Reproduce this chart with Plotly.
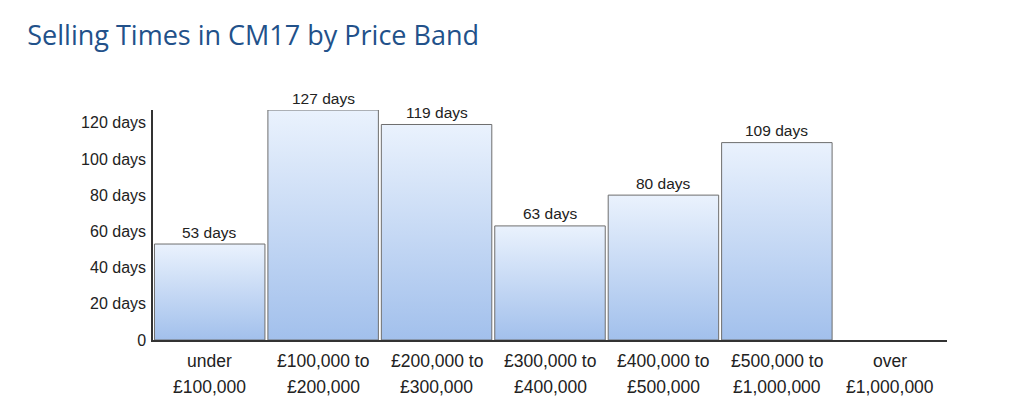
import plotly.graph_objects as go

title = "Selling Times in CM17 by Price Band"
bands_line1 = ["under", "£100,000 to", "£200,000 to", "£300,000 to",
               "£400,000 to", "£500,000 to", "over"]
bands_line2 = ["£100,000", "£200,000", "£300,000", "£400,000",
               "£500,000", "£1,000,000", "£1,000,000"]
days = [53, 127, 119, 63, 80, 109, None]
ytick_vals = [0, 20, 40, 60, 80, 100, 120]
ytick_text = ["0", "20 days", "40 days", "60 days", "80 days", "100 days", "120 days"]

half = 0.487
label_font = dict(family="Liberation Sans, Arial", size=17.5, color="#222222")

fig = go.Figure()

for i, d in enumerate(days):
    if d is None:
        continue
    fig.add_trace(go.Scatter(
        x=[i - half, i - half, i + half, i + half, i - half],
        y=[0, d, d, 0, 0],
        mode="lines",
        fill="toself",
        fillgradient=dict(
            type="vertical",
            start=0,
            stop=d,
            colorscale=[[0, "#a2c0ec"], [1, "#eaf2fd"]],
        ),
        line=dict(color="#6e6e6e", width=1),
        hovertemplate=f"{bands_line1[i]} {bands_line2[i]}: {d} days<extra></extra>",
        showlegend=False,
    ))

    # value label above the bar
    fig.add_annotation(
        x=i, y=d, xref="x", yref="y",
        text=f"{d} days", showarrow=False,
        yshift=12, yanchor="middle",
        font=dict(family="Liberation Sans, Arial", size=15.5, color="#222222"),
    )

# two-line category labels
for i, (a, b) in enumerate(zip(bands_line1, bands_line2)):
    for txt, shift in ((a, -21), (b, -47)):
        fig.add_annotation(
            x=i, y=0, xref="x", yref="y",
            text=txt, showarrow=False,
            yshift=shift, yanchor="middle",
            font=label_font,
        )

# page body has an 8px margin, so the figure is sized to sit inside it
fig.update_layout(
    width=1016,
    height=412,
    plot_bgcolor="white",
    paper_bgcolor="white",
    margin=dict(l=145, r=77, t=102, b=80),
    title=dict(
        text=title,
        x=0.019, xanchor="left",
        y=0.933, yanchor="middle",
        font=dict(family="Open Sans", size=27, color="#22518a"),
    ),
)

fig.update_xaxes(
    range=[-0.5, 6.5],
    showticklabels=False,
    showgrid=False,
    zeroline=False,
    showline=True,
    linecolor="#333333",
    linewidth=1.5,
    ticks="",
)

fig.update_yaxes(
    range=[0, 127],
    tickvals=ytick_vals,
    ticktext=ytick_text,
    tickfont=dict(family="Liberation Sans, Arial", size=16, color="#222222"),
    ticklabelstandoff=2,
    showgrid=False,
    zeroline=False,
    showline=True,
    linecolor="#333333",
    linewidth=1.5,
    ticks="",
)

fig.write_html("out.html")
